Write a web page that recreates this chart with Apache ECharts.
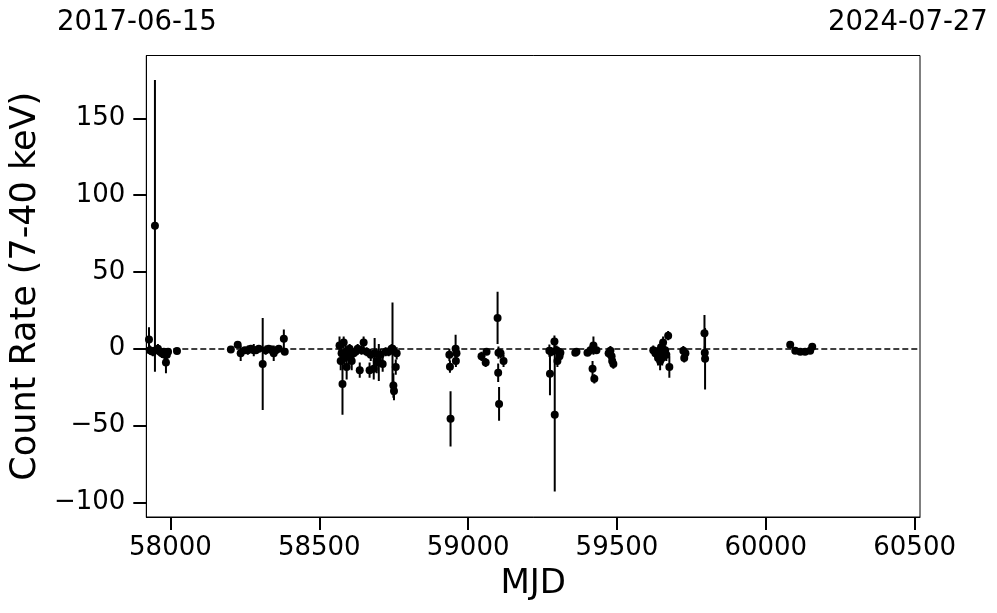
<!DOCTYPE html>
<html>
<head>
<meta charset="utf-8">
<script src="https://cdn.jsdelivr.net/npm/echarts@6/dist/echarts.min.js"></script>
<style>html,body{margin:0;padding:0;background:#fff}#c{width:997px;height:613px}</style>
</head>
<body>
<div id="c"></div>
<script>
// Observation dates (MJD)
const mjd = [
  57928, 57931, 57941, 57948, 57951, 57958, 57965, 57971, 57978, 57981, 57985, 57988, 57992, 58022,
  58203, 58226, 58236, 58250, 58260, 58270, 58280, 58287, 58297, 58310, 58320, 58330, 58341, 58347, 58354, 58364, 58381, 58384,
  58568, 58572, 58575, 58578, 58582, 58585, 58589, 58592, 58599, 58602, 58609, 58615, 58622, 58629, 58636, 58642, 58649, 58659, 58669, 58673, 58683, 58686, 58693, 58700, 58706, 58713, 58723, 58733, 58743, 58746, 58749, 58751, 58757, 58760,
  58937, 58939, 58941, 58958, 58959, 58961, 59045, 59059, 59062, 59099, 59101, 59102, 59104, 59109, 59119,
  59273, 59275, 59280, 59290, 59291, 59297, 59300, 59307, 59310, 59360, 59364, 59401, 59411, 59421, 59418, 59424, 59431, 59472, 59478, 59482, 59484, 59488,
  59622, 59629, 59635, 59638, 59642, 59645, 59648, 59652, 59655, 59659, 59662, 59666, 59672, 59676, 59723, 59726, 59730, 59794, 59795, 59796,
  60082, 60099, 60116, 60132, 60149, 60156
];
// Count rate (7-40 keV)
const rate = [
  6, -1, -2, 80, -1, 0, -2, -3, -2, -4, -9, -4, -2, -1.5,
  -0.6, 2.6, -3, -1, -1, 0, -1, -1, 0, -10, -1, 0, -1, -3, -1, 0, 6.5, -2,
  2, -8, -3, -23, 4, -6, -2, -12, -5, 0, -8, -3, -2, 0, -14, -1, 4, -2, -14, -4, -13, -3, -8, -9, -4, -10, -2, -2, 0, 0, -24, -27.5, -12, -3,
  -4, -11.7, -45.7, 0, -8, -3, -5, -9, -2, 20, -15.7, -2.6, -36, -3, -8,
  -1.3, -16.3, -2, 4.6, -43, -1, -8, -5, -2.6, -2.6, -2, -2.6, -1, 2, -13, -19.6, -1, -3, -1.3, -5, -8, -10,
  -1, -3, -2, -6, -2, -8, 1, -6, 4, -3, -1, -4, 8.5, -12, -1.3, -6, -3, 10, -2.6, -6.5,
  2.6, -1.3, -2, -2, -1.3, 1.3
];
// 1-sigma errors
const err = [
  8, 3, 3, 95, 2, 3, 2, 3, 2, 3, 7, 4, 2, 2,
  2, 2, 5, 2, 3, 2, 4, 2, 2, 30, 3, 2, 3, 5, 2, 2, 6, 2,
  6, 6, 6, 20, 4, 5, 4, 8, 5, 3, 6, 3, 3, 3, 5, 3, 4, 3, 5, 4, 7, 10, 8, 12, 4, 5, 3, 3, 3, 30, 8, 6, 5, 4,
  4, 4, 18, 9, 4, 3, 3, 3, 2, 17, 6, 4, 11, 3, 4,
  4, 14, 3, 4, 50, 3, 4, 3, 3, 2, 2, 2, 3, 6, 5, 3, 2, 3, 3, 3, 3, 3,
  3, 3, 3, 5, 4, 6, 4, 5, 4, 4, 3, 4, 3, 7, 3, 3, 3, 12, 4, 20,
  1.5, 1.5, 1.5, 1.5, 1.5, 1.5
];
const xTicks = [58000, 58500, 59000, 59500, 60000, 60500];
const yTicks = [-100, -50, 0, 50, 100, 150];
const dateLeft = '2017-06-15';
const dateRight = '2024-07-27';

const pts = mjd.map((m, i) => [m, rate[i]]);
const bars = mjd.map((m, i) => [m, rate[i] - err[i], rate[i] + err[i]]);

const FONT = 'DejaVu Sans';
const fmt = v => (v < 0 ? '\u2212' + Math.abs(v) : String(v));
const chart = echarts.init(document.getElementById('c'), null, {renderer: 'canvas'});
chart.setOption({
  animation: false,
  backgroundColor: '#fff',
  textStyle: {fontFamily: FONT},
  grid: {left: 145.5, top: 55.5, width: 774.5, height: 461.5, show: true, borderColor: '#000', borderWidth: 1, backgroundColor: 'transparent'},
  graphic: [
    {type: 'text', left: 57, top: 9, style: {text: dateLeft, font: '27.5px "DejaVu Sans"', fill: '#000'}},
    {type: 'text', left: 828, top: 9, style: {text: dateRight, font: '27.5px "DejaVu Sans"', fill: '#000'}}
  ],
  xAxis: {
    type: 'value', min: 57919, max: 60518,
    name: 'MJD', nameLocation: 'middle', nameGap: 50,
    nameTextStyle: {fontSize: 34, color: '#000', fontFamily: FONT},
    axisLine: {show: true, onZero: false, lineStyle: {color: '#000', width: 1}},
    axisTick: {show: true, inside: false, length: 13, lineStyle: {color: '#000', width: 2}, customValues: xTicks},
    axisLabel: {customValues: xTicks, formatter: fmt, fontSize: 26, color: '#000', margin: 18, fontFamily: FONT},
    splitLine: {show: false}
  },
  yAxis: {
    type: 'value', min: -109.6, max: 190.9,
    name: 'Count Rate (7-40 keV)', nameLocation: 'middle', nameGap: 100, nameRotate: 90,
    nameTextStyle: {fontSize: 35, color: '#000', fontFamily: FONT},
    axisLine: {show: true, onZero: false, lineStyle: {color: '#000', width: 1}},
    axisTick: {show: true, inside: false, length: 13, lineStyle: {color: '#000', width: 2}, customValues: yTicks},
    axisLabel: {customValues: yTicks, formatter: fmt, fontSize: 26, color: '#000', margin: 21, fontFamily: FONT},
    splitLine: {show: false}
  },
  series: [
    {
      type: 'custom',
      data: bars,
      clip: true,
      renderItem: function (params, api) {
        const x = api.value(0);
        const p1 = api.coord([x, api.value(1)]);
        const p2 = api.coord([x, api.value(2)]);
        return {type: 'line', shape: {x1: p1[0], y1: p1[1], x2: p2[0], y2: p2[1]}, style: {stroke: '#000', lineWidth: 2}};
      },
      encode: {x: 0, y: [1, 2]},
      z: 2
    },
    {
      type: 'scatter',
      data: pts,
      symbol: 'circle',
      symbolSize: 8,
      itemStyle: {color: '#000', opacity: 1},
      z: 3,
      markLine: {
        silent: true,
        symbol: 'none',
        label: {show: false},
        lineStyle: {color: '#000', width: 1.5, type: [6, 3]},
        data: [{yAxis: 0}]
      }
    }
  ]
});
</script>
</body>
</html>
